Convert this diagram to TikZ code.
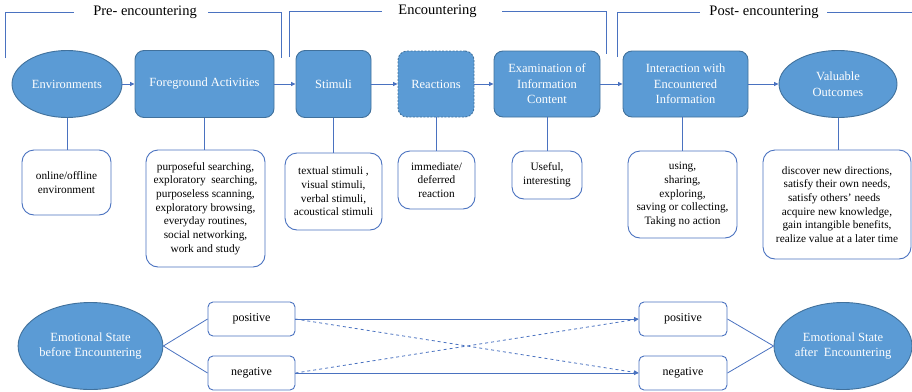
\documentclass[tikz,border=0pt]{standalone}
\usepackage{fontspec}
\setmainfont{Liberation Serif}
\usetikzlibrary{arrows.meta,shapes.geometric}
\definecolor{nfill}{HTML}{5B9BD5}
\definecolor{nborder}{HTML}{41719C}
\definecolor{lblue}{HTML}{4A72C0}
\begin{document}
\begin{tikzpicture}[x=1pt,y=-1pt,
  topbox/.style={draw=nborder, fill=nfill, rounded corners=9pt, line width=0.9pt,
    text=white, font=\fontsize{12.5}{15.5}\selectfont, align=center, inner sep=0pt},
  topell/.style={ellipse, draw=nborder, fill=nfill, line width=0.9pt,
    text=white, font=\fontsize{12.5}{15.5}\selectfont, align=center, inner sep=0pt},
  infobox/.style={draw=lblue, fill=white, rounded corners=12pt, line width=0.9pt,
    font=\fontsize{11.3}{13.7}\selectfont, align=center, inner sep=0pt},
  emobox/.style={draw=lblue, fill=white, rounded corners=5pt, line width=0.9pt,
    font=\fontsize{12}{14}\selectfont, align=center, inner sep=0pt,
    minimum width=87pt, minimum height=34pt},
  conn/.style={draw=lblue, line width=0.8pt},
  arr/.style={conn, -{Triangle[length=4.5pt,width=4pt]}},
  phase/.style={font=\fontsize{14.5}{16}\selectfont, inner sep=0pt},
]
\useasboundingbox (0,0) rectangle (912,391);

% phase brackets
\node[phase] (ph1) at (145,12) {Pre- encountering};
\node[phase] (ph2) at (437.5,11) {Encountering};
\node[phase] (ph3) at (764,12) {Post- encountering};
\draw[conn] (5.5,58) -- (5.5,12.5) -- (74,12.5);
\draw[conn] (208,12.5) -- (281,12.5) -- (281,58);
\draw[conn] (289,57) -- (289,11.3) -- (382,11.3);
\draw[conn] (502,11.3) -- (606,11.3) -- (606,54);
\draw[conn] (617,57) -- (617,12.3) -- (700,12.3);
\draw[conn] (827,12.3) -- (912,12.3);

% top row
\node[topell, minimum width=110pt, minimum height=67pt] (env) at (67,84) {Environments};
\node[topbox, minimum width=139pt, minimum height=67pt] (fg) at (204.5,84) {Foreground Activities};
\node[topbox, minimum width=75pt, minimum height=67pt] (stim) at (333.5,84) {Stimuli};
\node[topbox, minimum width=76pt, minimum height=66pt, dash pattern=on 2pt off 1.5pt] (react) at (436,84) {Reactions};
\node[topbox, minimum width=106pt, minimum height=66pt] (exam) at (547,84) {Examination of\\Information\\Content};
\node[topbox, minimum width=125pt, minimum height=66pt] (inter) at (685.5,84) {Interaction with\\Encountered\\Information};
\node[topell, minimum width=118pt, minimum height=67pt] (valu) at (838,84) {Valuable\\Outcomes};

\draw[arr] (env) -- (fg);
\draw[arr] (fg) -- (stim);
\draw[arr] (stim) -- (react);
\draw[arr] (react) -- (exam);
\draw[arr] (exam) -- (inter);
\draw[arr] (inter) -- (valu);

% info boxes
\node[infobox, minimum width=89pt, minimum height=65pt] (b1) at (66.5,182.5) {online/offline\\environment};
\node[infobox, minimum width=119pt, minimum height=117pt] (b2) at (205.5,208.5) {purposeful searching,\\exploratory\ \ searching,\\purposeless scanning,\\exploratory browsing,\\everyday routines,\\social networking,\\work and study};
\node[infobox, minimum width=97pt, minimum height=77pt] (b3) at (333.5,191.5) {textual stimuli ,\\visual stimuli,\\verbal stimuli,\\acoustical stimuli};
\node[infobox, minimum width=77pt, minimum height=58pt] (b4) at (436.5,180) {immediate/\\deferred\\reaction};
\node[infobox, minimum width=70pt, minimum height=48pt] (b5) at (547,175) {Useful,\\interesting};
\node[infobox, minimum width=109pt, minimum height=87pt] (b6) at (682.5,194.5) {using,\\sharing,\\exploring,\\saving or collecting,\\Taking no action};
\node[infobox, minimum width=148pt, minimum height=109pt] (b7) at (837,204.5) {discover new directions,\\satisfy their own needs,\\satisfy others' needs\ \ \ \ \\acquire new knowledge,\\gain intangible benefits,\\realize value at a later time};

\draw[conn] (env.south) -- (env.south |- b1.north);
\draw[conn] (fg.south) -- (fg.south |- b2.north);
\draw[conn] (stim.south) -- (stim.south |- b3.north);
\draw[conn] (react.south) -- (react.south |- b4.north);
\draw[conn] (exam.south) -- (exam.south |- b5.north);
\draw[conn] (inter.south -| b6.north) -- (b6.north);
\draw[conn] (valu.south) -- (valu.south |- b7.north);

% emotional states
\node[topell, minimum width=137pt, minimum height=87pt] (bef) at (90.5,346) {Emotional State\\before Encountering};
\node[emobox] (pl) at (251.5,319) {positive};
\node[emobox] (nl) at (251.5,373) {negative};
\node[emobox, minimum width=88pt] (pr) at (683,319) {positive};
\node[emobox, minimum width=88pt] (nr) at (683,373) {negative};
\node[topell, minimum width=138pt, minimum height=87pt] (aft) at (843,346) {Emotional State\\after\ \ Encountering};

\draw[conn] (bef.east) -- (pl.west);
\draw[conn] (bef.east) -- (nl.west);
\draw[arr] (pl.east) -- (pr.west);
\draw[arr] (nl.east) -- (nr.west);
\draw[arr, dashed] (pl.east) -- (nr.west);
\draw[arr, dashed] (nl.east) -- (pr.west);
\draw[conn] (pr.east) -- (aft.west);
\draw[conn] (nr.east) -- (aft.west);
\end{tikzpicture}
\end{document}
